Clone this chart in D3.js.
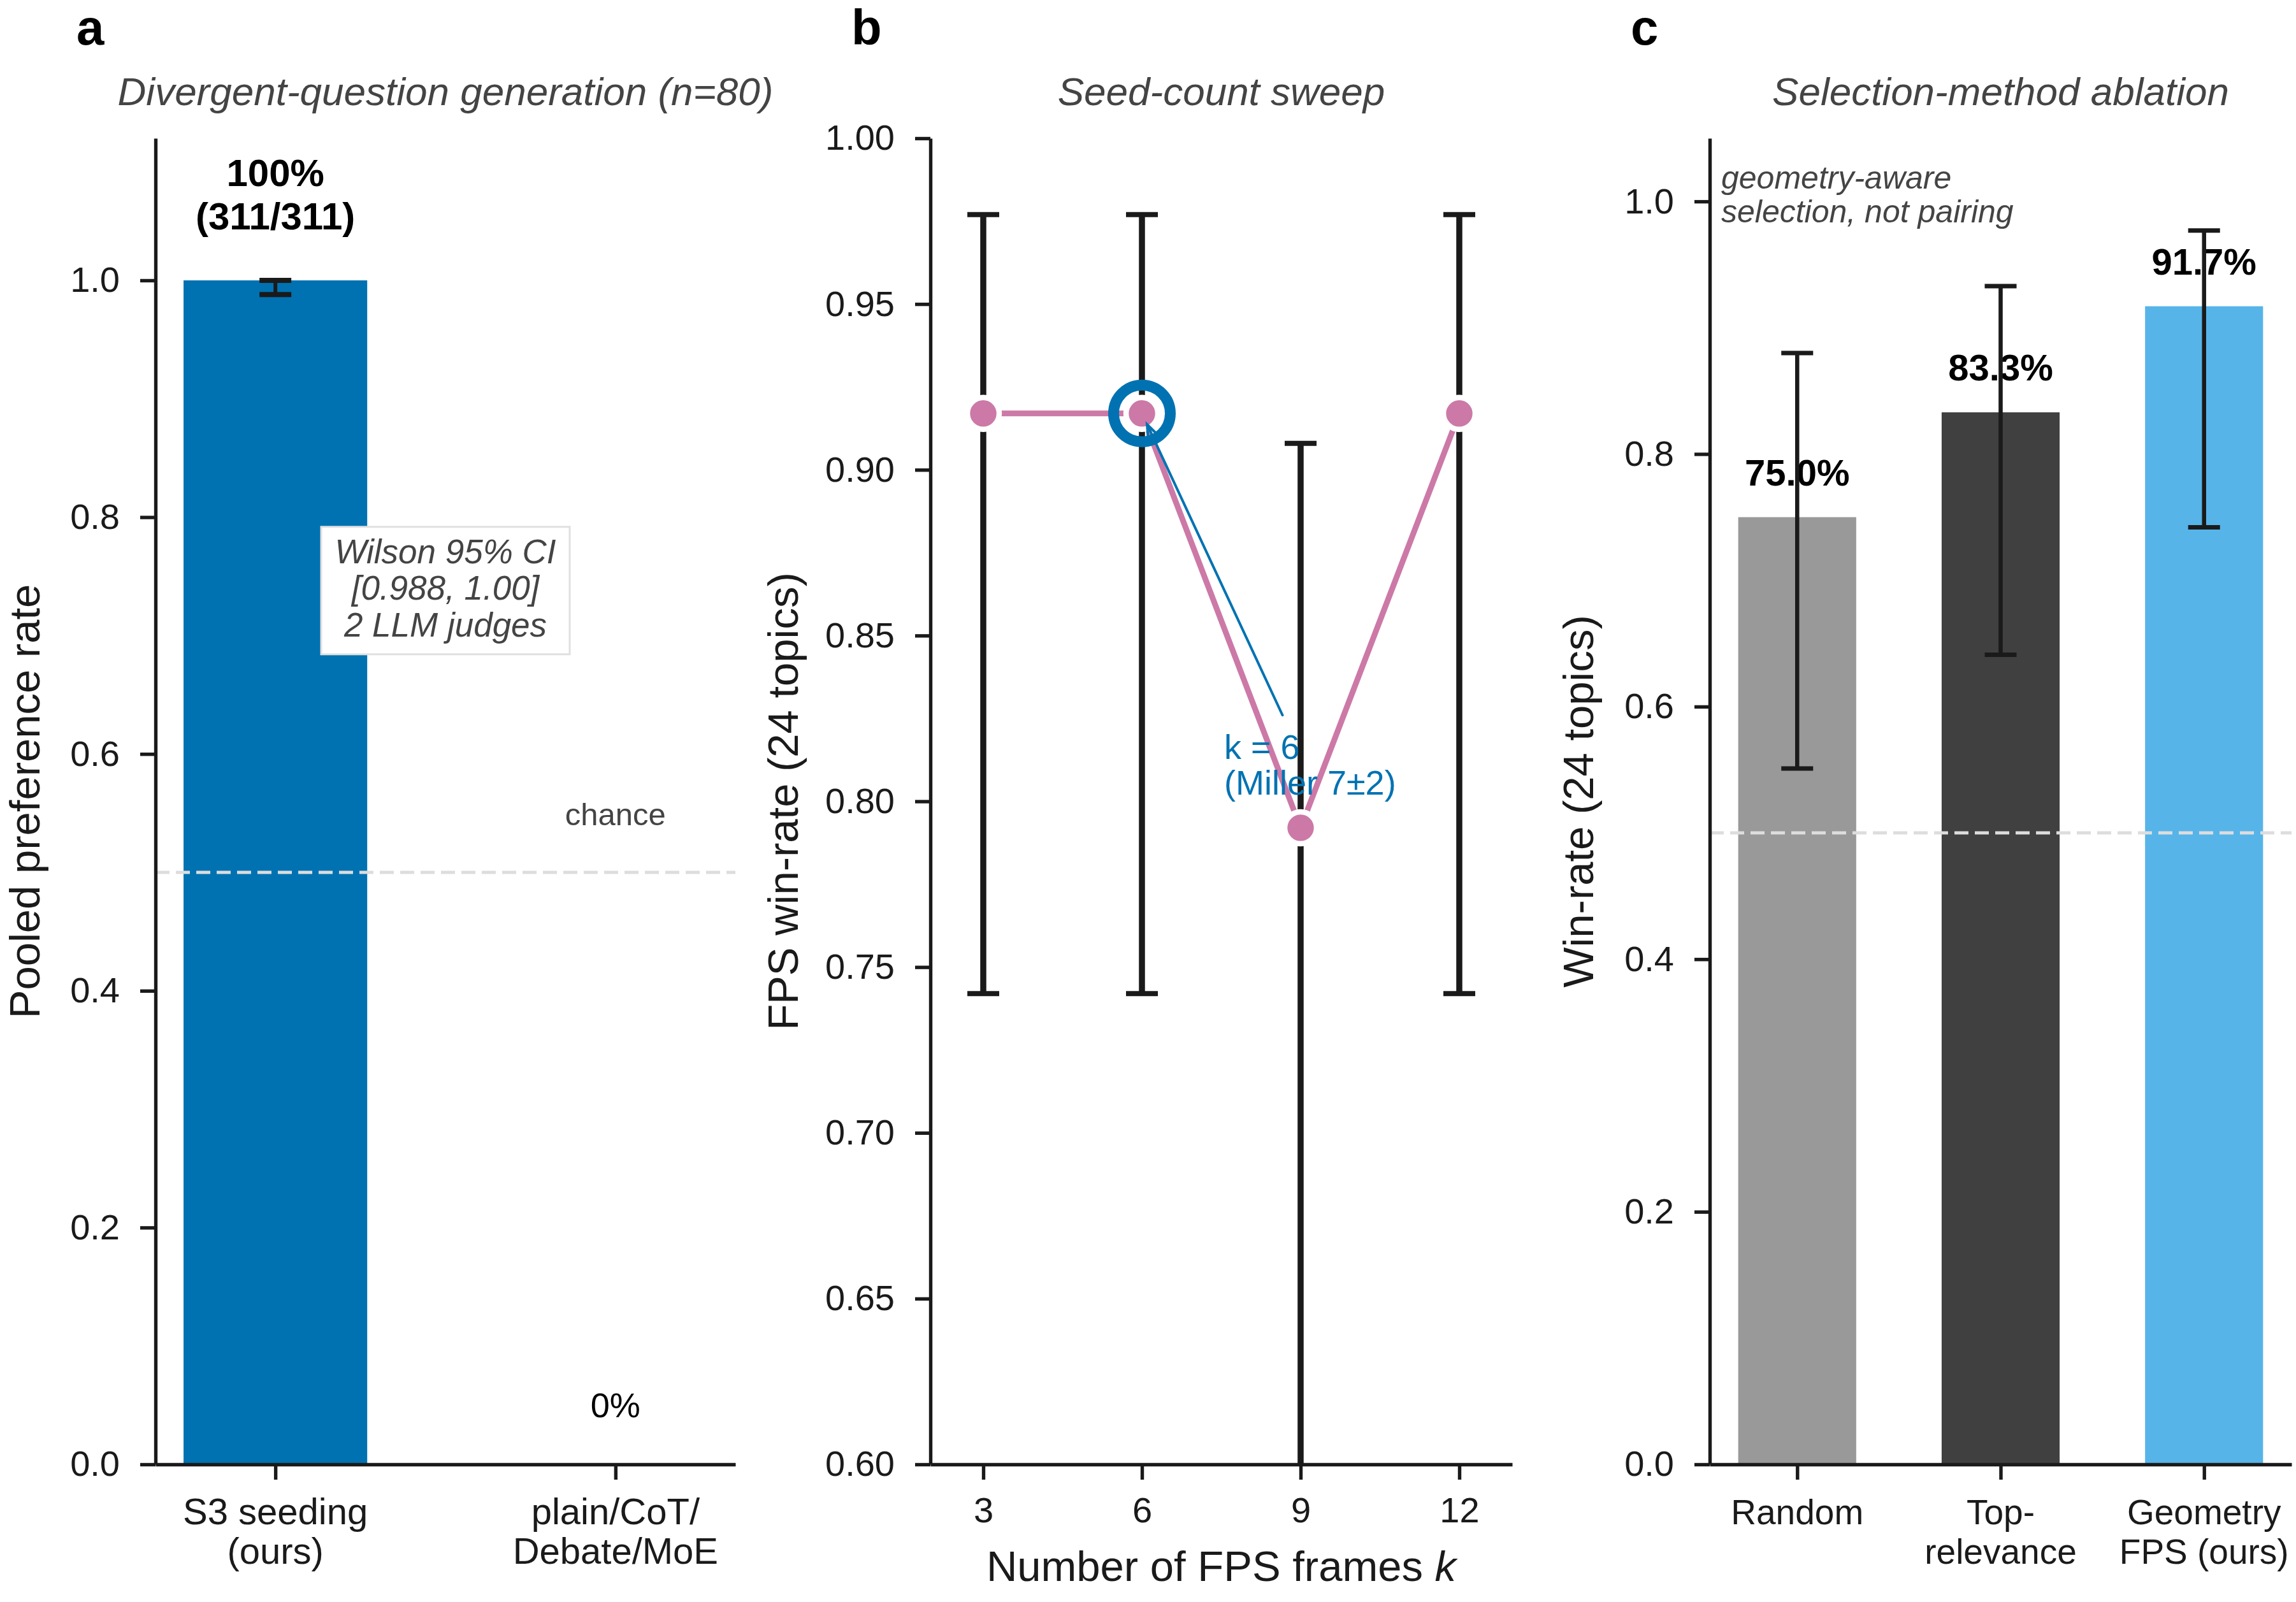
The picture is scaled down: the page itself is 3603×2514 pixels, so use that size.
<!DOCTYPE html>
<html>
<head>
<meta charset="utf-8">
<script src="https://cdn.jsdelivr.net/npm/d3@7"></script>
<style>
  body { margin: 0; background: #fff; }
  svg text { font-family: "Liberation Sans", Arial, sans-serif; }
</style>
</head>
<body>
<div id="chart"></div>
<script>
// ---- data ----
// panel a: divergent-question generation
const seedCategories = ["S3 seeding\n(ours)", "plain/CoT/\nDebate/MoE"];
const seedRates = [1.0, 0.0];
const seedLow = [0.988, null];
const seedHigh = [1.0, null];
const seedLabels = ["100%\n(311/311)", "0%"];
const seedTicks = [0.0, 0.2, 0.4, 0.6, 0.8, 1.0];

// panel b: seed-count sweep
const sweepK = [3, 6, 9, 12];
const sweepWin = [0.917, 0.917, 0.792, 0.917];
const sweepLow = [0.742, 0.742, 0.595, 0.742];
const sweepHigh = [0.977, 0.977, 0.908, 0.977];
const sweepTicks = [0.60, 0.65, 0.70, 0.75, 0.80, 0.85, 0.90, 0.95, 1.00];

// panel c: selection-method ablation
const ablationMethods = ["Random", "Top-\nrelevance", "Geometry\nFPS (ours)"];
const ablationWin = [0.750, 0.833, 0.917];
const ablationLow = [0.551, 0.641, 0.742];
const ablationHigh = [0.880, 0.933, 0.977];
const ablationLabels = ["75.0%", "83.3%", "91.7%"];
const ablationTicks = [0.0, 0.2, 0.4, 0.6, 0.8, 1.0];

// ---- style ----
const INK = "#1a1a1a";
const GREY_TXT = "#444444";
const BLUE = "#0072B2";
const PINK = "#CC79A7";
const barColorsC = ["#999999", "#404040", "#56B4E9"];
const TICK_FS = 56;
const LABEL_FS = 67;

const W = 3603, H = 2514;
const axTop = 217, axBottom = 2298;

const svg = d3.select("#chart").append("svg")
    .attr("width", W).attr("height", H)
    .style("background", "#fff");

// split "a\nb" into tspans
function multiline(sel, str, lh) {
    const x = sel.attr("x");
    str.split("\n").forEach(function(t, i) {
        sel.append("tspan").attr("x", x).attr("dy", i ? lh : 0).text(t);
    });
}

function styleAxis(g) {
    g.attr("font-family", null).attr("font-size", null);
    g.select(".domain").attr("stroke", INK).attr("stroke-width", 5.4);
    g.selectAll(".tick line").attr("stroke", INK).attr("stroke-width", 5.4);
    g.selectAll(".tick text").attr("fill", INK).attr("font-size", TICK_FS);
}

function yAxis(y, left, ticks, fmt) {
    svg.append("g")
        .attr("transform", `translate(${left},0)`)
        .call(d3.axisLeft(y).tickValues(ticks).tickFormat(fmt)
            .tickSize(24).tickPadding(32).tickSizeOuter(0))
        .call(styleAxis);
}

function xAxis(x, ticks, fmt) {
    svg.append("g")
        .attr("transform", `translate(0,${axBottom})`)
        .call(d3.axisBottom(x).tickValues(ticks).tickFormat(fmt)
            .tickSize(24).tickPadding(27).tickSizeOuter(0))
        .call(styleAxis);
}

function catLabels(x, cats, fs) {
    cats.forEach(function(c, i) {
        const t = svg.append("text")
            .attr("x", x(i)).attr("y", 2392)
            .attr("text-anchor", "middle")
            .attr("font-size", fs).attr("fill", INK);
        multiline(t, c, 62);
    });
}

function errorBar(g, cx, y0, y1, sw, capW, capSw) {
    g.append("line").attr("x1", cx).attr("x2", cx).attr("y1", y0).attr("y2", y1)
        .attr("stroke", INK).attr("stroke-width", sw);
    [y0, y1].forEach(function(yy) {
        g.append("line").attr("x1", cx - capW / 2).attr("x2", cx + capW / 2)
            .attr("y1", yy).attr("y2", yy)
            .attr("stroke", INK).attr("stroke-width", capSw);
    });
}

function panelHead(left, right, letter, title) {
    svg.append("text").attr("x", left - 124).attr("y", 70)
        .attr("font-size", 78).attr("font-weight", "bold").attr("fill", "#000")
        .text(letter);
    svg.append("text").attr("x", (left + right) / 2).attr("y", 165)
        .attr("text-anchor", "middle").attr("font-size", 62)
        .attr("font-style", "italic").attr("fill", GREY_TXT)
        .text(title);
}

function yLabel(xb, text) {
    svg.append("text")
        .attr("transform", `translate(${xb},${(axTop + axBottom) / 2}) rotate(-90)`)
        .attr("text-anchor", "middle").attr("font-size", LABEL_FS).attr("fill", INK)
        .text(text);
}

// ================= panel a =================
(function() {
    const left = 244, right = 1154;
    const x = d3.scaleLinear().domain([-0.3525, 1.3525]).range([left, right]);
    const y = d3.scaleLinear().domain([0, 1.12]).range([axBottom, axTop]);
    const bw = 0.54;
    const g = svg.append("g");

    g.selectAll("rect.bar").data(seedRates).join("rect")
        .attr("class", "bar")
        .attr("x", (d, i) => x(i - bw / 2))
        .attr("width", x(bw) - x(0))
        .attr("y", d => y(d))
        .attr("height", d => y(0) - y(d))
        .attr("fill", BLUE);

    // chance line
    g.append("line").attr("x1", left).attr("x2", right)
        .attr("y1", y(0.5)).attr("y2", y(0.5))
        .attr("stroke", "#dddddd").attr("stroke-width", 5)
        .attr("stroke-dasharray", "22,10");
    g.append("text").attr("x", x(1)).attr("y", y(0.54))
        .attr("text-anchor", "middle").attr("font-size", 49).attr("fill", GREY_TXT)
        .text("chance");

    // error bars
    seedRates.forEach(function(v, i) {
        if (seedLow[i] === null) return;
        errorBar(g, x(i), y(seedLow[i]), y(seedHigh[i]), 6, 50, 8);
    });

    // value labels
    const t0 = g.append("text").attr("x", x(0)).attr("y", y(1.043) - 68)
        .attr("text-anchor", "middle").attr("font-size", 60)
        .attr("font-weight", "bold").attr("fill", "#000");
    multiline(t0, seedLabels[0], 68);
    g.append("text").attr("x", x(1)).attr("y", y(0.04))
        .attr("text-anchor", "middle").attr("font-size", 54).attr("fill", "#000")
        .text(seedLabels[1]);

    // CI box
    const bx = (left + right) / 2, by = y(0.738);
    g.append("rect").attr("x", bx - 195).attr("y", by - 100)
        .attr("width", 390).attr("height", 200)
        .attr("fill", "#fff").attr("stroke", "#e0e0e0").attr("stroke-width", 3);
    const bt = g.append("text").attr("x", bx).attr("y", by - 43)
        .attr("text-anchor", "middle").attr("font-size", 53)
        .attr("font-style", "italic").attr("fill", GREY_TXT);
    multiline(bt, "Wilson 95% CI\n[0.988, 1.00]\n2 LLM judges", 57.5);

    yAxis(y, left, seedTicks, d3.format(".1f"));
    xAxis(x, [0, 1], "");
    catLabels(x, seedCategories, 58);
    panelHead(left, right, "a", "Divergent-question generation (n=80)");
    yLabel(62, "Pooled preference rate");
})();

// ================= panel b =================
(function() {
    const left = 1460, right = 2373;
    const x = d3.scaleLinear().domain([2, 13]).range([left, right]);
    const y = d3.scaleLinear().domain([0.6, 1.0]).range([axBottom, axTop]);

    svg.append("clipPath").attr("id", "clipB").append("rect")
        .attr("x", left).attr("y", axTop).attr("width", right - left).attr("height", axBottom - axTop);
    const g = svg.append("g").attr("clip-path", "url(#clipB)");

    sweepK.forEach(function(k, i) {
        errorBar(g, x(k), y(sweepLow[i]), y(sweepHigh[i]), 9.5, 50, 8);
    });

    const pts = sweepK.map((k, i) => [k, sweepWin[i]]);
    g.append("path").datum(pts)
        .attr("fill", "none").attr("stroke", PINK).attr("stroke-width", 9)
        .attr("stroke-linejoin", "round")
        .attr("d", d3.line().x(d => x(d[0])).y(d => y(d[1])));

    g.selectAll("circle.pt").data(pts).join("circle")
        .attr("class", "pt")
        .attr("cx", d => x(d[0])).attr("cy", d => y(d[1]))
        .attr("r", 25)
        .attr("fill", PINK).attr("stroke", "#fff").attr("stroke-width", 8.5);

    // highlight k = 6
    const hx = x(sweepK[1]), hy = y(sweepWin[1]);
    g.append("circle").attr("cx", hx).attr("cy", hy).attr("r", 44.5)
        .attr("fill", "none").attr("stroke", BLUE).attr("stroke-width", 17);

    // annotation arrow
    const sx = x(8.657), sy = y(0.826);
    const len = Math.hypot(sx - hx, sy - hy);
    const ux = (sx - hx) / len, uy = (sy - hy) / len;
    const tx = hx + ux * 19, ty = hy + uy * 19;
    g.append("line").attr("x1", sx).attr("y1", sy).attr("x2", tx).attr("y2", ty)
        .attr("stroke", BLUE).attr("stroke-width", 4).attr("stroke-linecap", "round");
    const px = -uy, py = ux;
    const hl = 24, hw = 9;
    g.append("path")
        .attr("d", `M${tx + ux * hl + px * hw},${ty + uy * hl + py * hw}L${tx},${ty}L${tx + ux * hl - px * hw},${ty + uy * hl - py * hw}`)
        .attr("fill", "none").attr("stroke", BLUE).attr("stroke-width", 4);

    const at = svg.append("text").attr("x", x(7.554)).attr("y", y(0.8128))
        .attr("font-size", 54).attr("fill", BLUE);
    multiline(at, "k = 6\n(Miller 7±2)", 56);

    yAxis(y, left, sweepTicks, d3.format(".2f"));
    xAxis(x, sweepK, d3.format("d"));
    panelHead(left, right, "b", "Seed-count sweep");
    yLabel(1252, "FPS win-rate (24 topics)");

    const xl = svg.append("text").attr("x", (left + right) / 2).attr("y", 2481)
        .attr("text-anchor", "middle").attr("font-size", LABEL_FS).attr("fill", INK);
    xl.append("tspan").text("Number of FPS frames ");
    xl.append("tspan").attr("font-style", "italic").text("k");
})();

// ================= panel c =================
(function() {
    const left = 2683, right = 3596;
    const x = d3.scaleLinear().domain([-0.43, 2.43]).range([left, right]);
    const y = d3.scaleLinear().domain([0, 1.05]).range([axBottom, axTop]);
    const bw = 0.58;
    const g = svg.append("g");

    g.selectAll("rect.bar").data(ablationWin).join("rect")
        .attr("class", "bar")
        .attr("x", (d, i) => x(i - bw / 2))
        .attr("width", x(bw) - x(0))
        .attr("y", d => y(d))
        .attr("height", d => y(0) - y(d))
        .attr("fill", (d, i) => barColorsC[i]);

    g.append("line").attr("x1", left).attr("x2", right)
        .attr("y1", y(0.5)).attr("y2", y(0.5))
        .attr("stroke", "#dddddd").attr("stroke-width", 5)
        .attr("stroke-dasharray", "22,10");

    g.selectAll("text.val").data(ablationWin).join("text")
        .attr("class", "val")
        .attr("x", (d, i) => x(i)).attr("y", d => y(d) - 50)
        .attr("text-anchor", "middle").attr("font-size", 58)
        .attr("font-weight", "bold").attr("fill", "#000")
        .text((d, i) => ablationLabels[i]);

    ablationWin.forEach(function(v, i) {
        errorBar(g, x(i), y(ablationLow[i]), y(ablationHigh[i]), 6.5, 50, 7);
    });

    const nt = g.append("text").attr("x", left + 18).attr("y", 296)
        .attr("font-size", 50).attr("font-style", "italic").attr("fill", GREY_TXT);
    multiline(nt, "geometry-aware\nselection, not pairing", 52.5);

    yAxis(y, left, ablationTicks, d3.format(".1f"));
    xAxis(x, [0, 1, 2], "");
    catLabels(x, ablationMethods, 55);
    panelHead(left, right, "c", "Selection-method ablation");
    yLabel(2500, "Win-rate (24 topics)");
})();
</script>
</body>
</html>
